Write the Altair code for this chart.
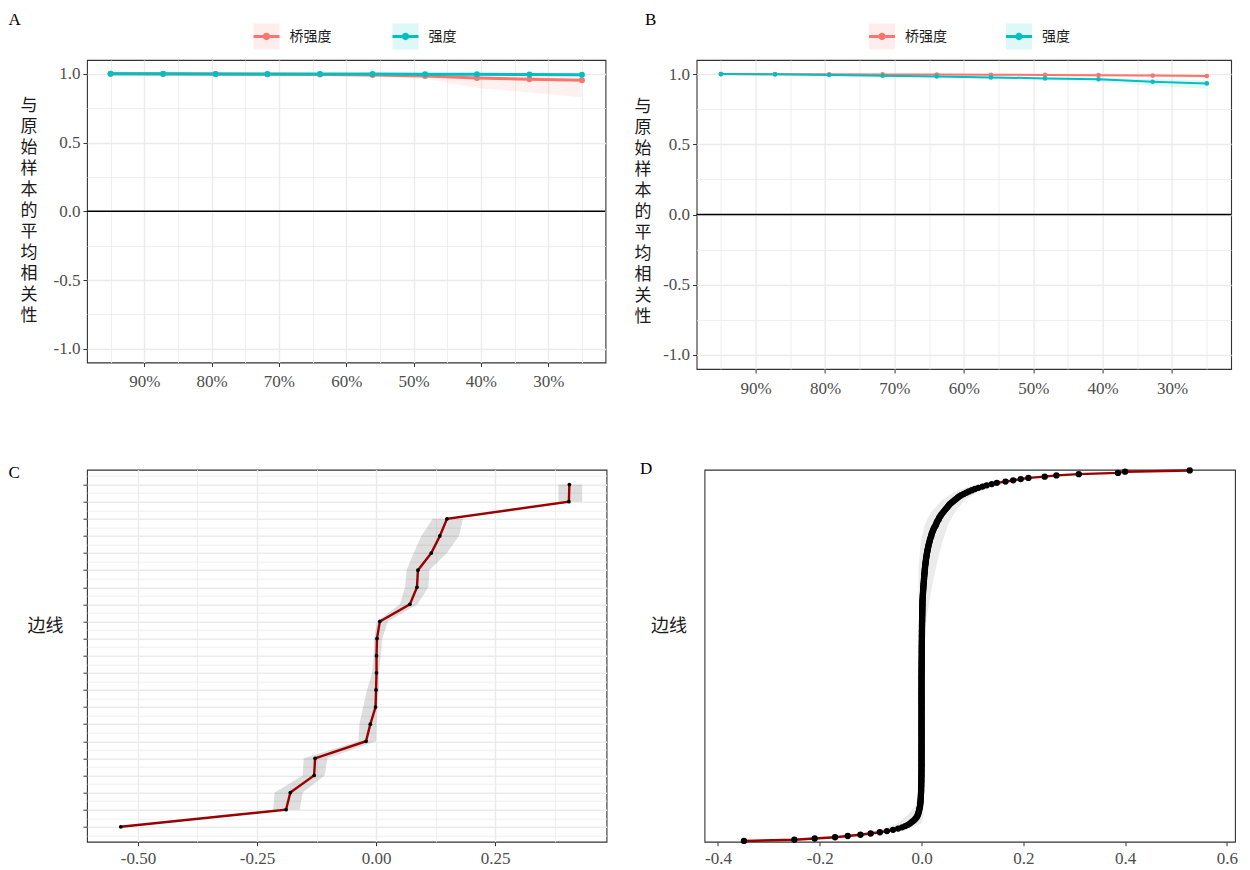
import altair as alt
import pandas as pd

FONT = "Liberation Serif, Noto Sans CJK SC, serif"
CJK = "Liberation Serif, Noto Sans CJK SC, sans-serif"
RED = "#F8766D"
TEAL = "#00BFC4"
SERIES_COLORS = [RED, TEAL]
GRID = "#EBEBEB"

# ---------------- data: panels A & B ----------------
series_names = ["桥强度", "强度"]
sample_pct = [0.95, 0.872, 0.794, 0.717, 0.639, 0.561, 0.483, 0.406, 0.328, 0.25]
x_grid_values = [0.95, 0.9, 0.85, 0.8, 0.75, 0.7, 0.65, 0.6, 0.55, 0.5, 0.45, 0.4, 0.35, 0.3, 0.25]
y_grid_values = [-1.0, -0.75, -0.5, -0.25, 0.0, 0.25, 0.5, 0.75, 1.0]
zero_line = [0.0]

a_bridge = [1.000, 0.999, 0.998, 0.997, 0.995, 0.991, 0.984, 0.969, 0.960, 0.953]
a_bridge_lo = [1.000, 0.998, 0.996, 0.993, 0.989, 0.984, 0.966, 0.896, 0.864, 0.829]
a_bridge_hi = [1.000, 1.000, 1.000, 1.000, 1.000, 0.999, 0.997, 0.995, 0.993, 0.990]
a_strength = [1.000, 1.000, 0.999, 0.999, 0.998, 0.998, 0.997, 0.996, 0.995, 0.993]
a_strength_lo = [1.000, 0.999, 0.998, 0.997, 0.996, 0.995, 0.993, 0.990, 0.988, 0.985]
a_strength_hi = [1.000, 1.000, 1.000, 1.000, 1.000, 1.000, 1.000, 1.000, 0.999, 0.998]

b_bridge = [1.000, 0.999, 0.998, 0.997, 0.996, 0.995, 0.994, 0.992, 0.989, 0.986]
b_bridge_lo = [1.000, 0.998, 0.996, 0.994, 0.992, 0.990, 0.987, 0.983, 0.978, 0.972]
b_bridge_hi = [1.000, 1.000, 1.000, 1.000, 0.999, 0.999, 0.998, 0.997, 0.996, 0.995]
b_strength = [1.000, 0.998, 0.993, 0.988, 0.983, 0.976, 0.969, 0.963, 0.945, 0.933]
b_strength_lo = [1.000, 0.996, 0.989, 0.982, 0.975, 0.966, 0.957, 0.945, 0.915, 0.895]
b_strength_hi = [1.000, 0.999, 0.996, 0.993, 0.990, 0.985, 0.979, 0.975, 0.965, 0.955]

# ---------------- data: panel C (21 edges, top to bottom) ----------------
c_sample = [0.406, 0.405, 0.149, 0.134, 0.116, 0.088, 0.086, 0.071, 0.008, 0.002, 0.001,
            0.001, 0.000, -0.001, -0.012, -0.021, -0.128, -0.130, -0.180, -0.189, -0.536]
c_lo = [0.383, 0.383, 0.119, 0.095, 0.079, 0.064, 0.061, 0.050, 0.002, -0.004, -0.005,
        -0.008, -0.019, -0.027, -0.035, -0.037, -0.152, -0.154, -0.213, -0.216, -0.536]
c_hi = [0.433, 0.433, 0.183, 0.174, 0.149, 0.112, 0.110, 0.087, 0.025, 0.013, 0.010,
        0.006, 0.006, 0.002, 0.001, 0.000, -0.102, -0.108, -0.154, -0.160, -0.536]
c_ci_group = [1, 1, 2, 2, 2, 2, 2, 2, 2, 2, 2, 2, 2, 2, 2, 2, 2, 2, 2, 2, 3]
c_x_grid = [-0.5, -0.375, -0.25, -0.125, 0.0, 0.125, 0.25, 0.375]
c_y_grid = [0.5, 1, 1.5, 2, 2.5, 3, 3.5, 4, 4.5, 5, 5.5, 6, 6.5, 7, 7.5, 8, 8.5, 9, 9.5, 10, 10.5,
            11, 11.5, 12, 12.5, 13, 13.5, 14, 14.5, 15, 15.5, 16, 16.5, 17, 17.5, 18, 18.5, 19,
            19.5, 20, 20.5, 21, 21.5]

# ---------------- data: panel D (edges sorted, top to bottom) ----------------
d_vals = [
    0.527, 0.400, 0.386, 0.309, 0.265, 0.242, 0.210, 0.195, 0.180, 0.165,
    0.148, 0.138, 0.128, 0.120, 0.112, 0.105, 0.099, 0.093, 0.088, 0.083,
    0.078, 0.074, 0.071, 0.068, 0.065, 0.062, 0.059, 0.056, 0.054, 0.052,
    0.050, 0.048, 0.046, 0.044, 0.042, 0.040, 0.038, 0.037, 0.035, 0.034,
    0.033, 0.031, 0.030, 0.029, 0.028, 0.027, 0.025, 0.024, 0.023, 0.022,
    0.021, 0.020, 0.0195, 0.019, 0.018, 0.0172, 0.0165, 0.016, 0.0153, 0.0147,
    0.014, 0.0135, 0.013, 0.0125,
    0.012, 0.0115, 0.011, 0.0106, 0.0102, 0.0098, 0.0094, 0.009, 0.0087, 0.0084,
    0.0081, 0.0078, 0.0075, 0.0072, 0.0069, 0.0066, 0.0064, 0.0062, 0.006,
    0.0058, 0.0056, 0.0054, 0.0052, 0.005, 0.0048, 0.0046, 0.0044, 0.0042, 0.004,
    0.0038, 0.0036, 0.0035, 0.0033, 0.0031, 0.003, 0.0028, 0.0027, 0.0025, 0.0024,
    0.0022, 0.002,
    0.0019, 0.0019, 0.0018, 0.0018, 0.0017, 0.0017, 0.0016, 0.0016, 0.0015, 0.0015,
    0.0014, 0.0014, 0.0013, 0.0013, 0.0012, 0.0012, 0.0011, 0.0011, 0.001, 0.001,
    0.0009, 0.0009, 0.0009, 0.0009, 0.0008, 0.0008, 0.0008, 0.0008, 0.0007, 0.0007,
    0.0007, 0.0007, 0.0006, 0.0006, 0.0006, 0.0006, 0.0005, 0.0005, 0.0005, 0.0005,
    0.0004, 0.0004, 0.0004, 0.0004, 0.0004, 0.0003, 0.0003, 0.0003, 0.0003, 0.0003,
    0.0002, 0.0002, 0.0002, 0.0002, 0.0002, 0.0001, 0.0001, 0.0001, 0.0001, 0.0001,
    0.0, 0.0, 0.0, 0.0, 0.0, 0.0, 0.0, 0.0, 0.0, 0.0, 0.0, 0.0, 0.0, 0.0, 0.0,
    0.0, 0.0, 0.0, 0.0, 0.0, 0.0, 0.0, 0.0, 0.0, 0.0, 0.0, 0.0, 0.0, 0.0, 0.0,
    0.0, 0.0, 0.0, 0.0, 0.0, 0.0, 0.0, 0.0, 0.0, 0.0, 0.0, 0.0, 0.0, 0.0, 0.0,
    0.0, 0.0, 0.0, 0.0, 0.0, 0.0, 0.0, 0.0, 0.0, 0.0, 0.0, 0.0, 0.0, 0.0, 0.0,
    0.0, 0.0, 0.0, 0.0, 0.0, 0.0, 0.0, 0.0, 0.0, 0.0, 0.0, 0.0, 0.0, 0.0, 0.0,
    -0.0001, -0.0001, -0.0001, -0.0001, -0.0002, -0.0002, -0.0002, -0.0002,
    -0.0004, -0.0004, -0.0004, -0.0004, -0.0006, -0.0006, -0.0006, -0.0006,
    -0.0008, -0.0008, -0.0008, -0.0008,
    -0.001, -0.0011, -0.0012, -0.0013, -0.0014, -0.0016, -0.0018, -0.002, -0.0022,
    -0.0025, -0.0028,
    -0.003, -0.0035, -0.004, -0.0046, -0.0052, -0.0058, -0.0065, -0.0075, -0.0085,
    -0.010, -0.012, -0.014, -0.017, -0.020, -0.023, -0.027, -0.032, -0.038, -0.046,
    -0.056, -0.068, -0.082, -0.100, -0.120, -0.145, -0.170, -0.210, -0.250, -0.349,
]
d_ci_rank = [1, 4, 8, 12, 18, 25, 35, 45, 60, 80, 100, 120, 150, 240, 262, 272, 280, 286, 291, 296, 300]
d_ci_lo = [0.520, 0.290, 0.170, 0.110, 0.066, 0.040, 0.018, 0.006, -0.002, -0.006, -0.006,
           -0.005, -0.004, -0.003, -0.006, -0.012, -0.030, -0.048, -0.080, -0.160, -0.349]
d_ci_hi = [0.530, 0.330, 0.215, 0.160, 0.112, 0.085, 0.065, 0.052, 0.040, 0.028, 0.018,
           0.010, 0.005, 0.003, 0.003, 0.004, 0.004, 0.000, -0.030, -0.130, -0.349]
d_x_ticks = [-0.4, -0.2, 0.0, 0.2, 0.4, 0.6]

# ---------------- helpers ----------------
LEG_PATH = ("M-1,-0.12H1V0.12H-1Z "
            "M-0.28,0A0.28,0.28,0,1,1,0.28,0A0.28,0.28,0,1,1,-0.28,0Z")
# legend-key background names (zero-width space keeps them distinct from the series legend)
band_names = [s + "\u200b" for s in series_names]


def cond(test, a, b):
    return alt.condition(test, alt.value(a), alt.value(b))


def panel_title(text, dx, dy):
    return alt.TitleParams(text=text, anchor="start", frame="group", dx=dx, dy=dy,
                           fontSize=17, font=FONT, fontWeight="normal", color="black", offset=0)


def stability_panel(label, vals, w, h, lw, psize, leg_x, leg_y, colpad, tx, ty, title_dx, title_dy):
    rows = []
    for name, band, (v, lo, hi) in zip(series_names, band_names, vals):
        for p, a, b, c in zip(sample_pct, v, lo, hi):
            rows.append({"pct": p, "series": name, "band": band, "value": a, "lo": b, "hi": c})
    df = pd.DataFrame(rows)
    major_x = "abs(round(datum.value*10) - datum.value*10) < 0.01"
    major_y = "abs(round(datum.value*2) - datum.value*2) < 0.01"
    x_axis = alt.Axis(values=x_grid_values, title=None, domain=False,
                      labelExpr=f"{major_x} ? format(datum.value, '.0%') : ''",
                      tickOpacity=cond(major_x, 1, 0), tickColor="#333333", tickSize=4,
                      gridColor=GRID, gridWidth=cond(major_x, 1.4, 0.8),
                      labelFont=FONT, labelFontSize=17, labelColor="#4D4D4D",
                      labelPadding=7, labelOverlap=False, labelFlush=False)
    y_axis = alt.Axis(values=y_grid_values, domain=False,
                      labelExpr=f"{major_y} ? replace(format(datum.value, '.1f'), '\u2212', '-') : ''",
                      tickOpacity=cond(major_y, 1, 0), tickColor="#333333", tickSize=4,
                      gridColor=GRID, gridWidth=cond(major_y, 1.4, 0.8),
                      labelFont=FONT, labelFontSize=17, labelColor="#4D4D4D",
                      labelPadding=3, labelOverlap=False, labelFlush=False,
                      title=list("与原始样本的平均相关性"), titleAngle=0, titleX=tx, titleY=ty,
                      titleAlign="center", titleBaseline="middle", titleFont=CJK,
                      titleFontSize=17, titleFontWeight="normal", titleColor="#1A1A1A",
                      titleLineHeight=21)
    xs = alt.X("pct:Q", scale=alt.Scale(domain=[0.215, 0.985], reverse=True, nice=False, zero=False),
               axis=x_axis)
    ys = alt.Scale(domain=[-1.1, 1.1], nice=False, zero=False)
    base = alt.Chart(df)
    area = base.mark_area(opacity=0.1).encode(
        x=xs, y=alt.Y("lo:Q", scale=ys, axis=y_axis), y2="hi:Q",
        fill=alt.Fill("band:N", scale=alt.Scale(domain=band_names, range=SERIES_COLORS),
                      legend=alt.Legend(
                          orient="none", legendX=leg_x, legendY=leg_y, direction="horizontal", title=None,
                          symbolType="square", symbolSize=676, symbolOpacity=0.13, symbolStrokeWidth=0,
                          labelOpacity=0, labelFont=CJK, labelFontSize=14, labelOffset=10,
                          columnPadding=colpad, padding=0, zindex=0)),
    )
    rule = alt.Chart(pd.DataFrame({"v": zero_line})).mark_rule(color="black", strokeWidth=1.3).encode(
        y=alt.Y("v:Q", scale=ys, axis=y_axis))
    lines = [
        base.transform_filter(alt.datum.series == name).mark_line(strokeWidth=lw, color=col).encode(
            x=xs, y=alt.Y("value:Q", scale=ys, axis=y_axis))
        for name, col in zip(series_names, SERIES_COLORS)
    ]
    point = base.mark_point(filled=True, size=psize, opacity=1).encode(
        x=xs, y=alt.Y("value:Q", scale=ys, axis=y_axis),
        color=alt.Color("series:N", scale=alt.Scale(domain=series_names, range=SERIES_COLORS),
                        legend=alt.Legend(
                            orient="none", legendX=leg_x, legendY=leg_y, direction="horizontal", title=None,
                            symbolType=LEG_PATH, symbolSize=676, symbolOpacity=1, symbolStrokeWidth=0,
                            labelFont=CJK, labelFontSize=14, labelColor="#1A1A1A", labelOffset=10,
                            columnPadding=colpad, padding=0, zindex=1)))
    return alt.layer(area, rule, *lines, point).properties(
        width=w, height=h, title=panel_title(label, title_dx, title_dy))


A = stability_panel("A", [(a_bridge, a_bridge_lo, a_bridge_hi), (a_strength, a_strength_lo, a_strength_hi)],
                    518.5, 302.5, 3, 36, 166.5, -36.5, 61, -58.5, 45.5, -78.5, 5.5)
B = stability_panel("B", [(b_bridge, b_bridge_lo, b_bridge_hi), (b_strength, b_strength_lo, b_strength_hi)],
                    534.5, 309, 2, 22, 172.4, -36.5, 59, -54, 46, -51.6, 5.5)

# ---------------- panel C ----------------
c_df = pd.DataFrame({"rank": list(range(1, len(c_sample) + 1)), "value": c_sample,
                     "lo": c_lo, "hi": c_hi, "grp": c_ci_group})
major_c = "abs(round(datum.value*4) - datum.value*4) < 0.01"
c_x_axis = alt.Axis(values=c_x_grid, title=None, domain=False,
                    labelExpr=f"{major_c} ? replace(format(datum.value, '.2f'), '\u2212', '-') : ''",
                    tickOpacity=cond(major_c, 1, 0), tickColor="#333333", tickSize=4,
                    gridColor=GRID, gridWidth=cond(major_c, 1.4, 0.8),
                    labelFont=FONT, labelFontSize=17, labelColor="#4D4D4D",
                    labelPadding=5, labelOverlap=False, labelFlush=False)
c_y_axis = alt.Axis(values=c_y_grid, labels=False, domain=False,
                    tickOpacity=cond("datum.value % 1 == 0", 1, 0), tickColor="#333333", tickSize=4,
                    gridColor=GRID, gridWidth=cond("datum.value % 1 == 0", 1.4, 0.8),
                    title="边线", titleAngle=0, titleX=-42, titleY=157, titleAlign="center",
                    titleBaseline="middle", titleFont=CJK, titleFontSize=18,
                    titleFontWeight="normal", titleColor="#1A1A1A")
c_xs = alt.Scale(domain=[-0.607, 0.484], nice=False, zero=False)
c_ys = alt.Scale(domain=[0.13, 21.87], reverse=True, nice=False, zero=False)
c_base = alt.Chart(c_df)
c_area = c_base.mark_area(orient="horizontal", color="black", opacity=0.13).encode(
    y=alt.Y("rank:Q", scale=c_ys, axis=c_y_axis),
    x=alt.X("lo:Q", scale=c_xs, axis=c_x_axis), x2="hi:Q", detail="grp:N")
c_line = c_base.mark_line(color="#990000", strokeWidth=2.4, orient="horizontal").encode(
    y=alt.Y("rank:Q", scale=c_ys, axis=c_y_axis),
    x=alt.X("value:Q", scale=c_xs, axis=c_x_axis), order="rank:Q")
c_pts = c_base.mark_point(filled=True, color="black", size=14, opacity=1).encode(
    y=alt.Y("rank:Q", scale=c_ys, axis=c_y_axis),
    x=alt.X("value:Q", scale=c_xs, axis=c_x_axis))
C = alt.layer(c_area, c_line, c_pts).properties(width=519.5, height=372,
                                                 title=panel_title("C", -78.5, 12))

# ---------------- panel D ----------------
n_d = len(d_vals)
d_df = pd.DataFrame({"rank": list(range(1, n_d + 1)), "value": d_vals})
d_ci_df = pd.DataFrame({"rank": d_ci_rank, "lo": d_ci_lo, "hi": d_ci_hi})
d_x_axis = alt.Axis(values=d_x_ticks, title=None, domain=False, grid=False,
                    labelExpr="replace(format(datum.value, '.1f'), '\u2212', '-')",
                    tickColor="#333333", tickSize=4,
                    labelFont=FONT, labelFontSize=17, labelColor="#4D4D4D",
                    labelPadding=5, labelOverlap=False, labelFlush=False)
d_y_axis = alt.Axis(labels=False, ticks=False, grid=False, domain=False,
                    title="边线", titleAngle=0, titleX=-36, titleY=157, titleAlign="center",
                    titleBaseline="middle", titleFont=CJK, titleFontSize=18,
                    titleFontWeight="normal", titleColor="#1A1A1A")
d_xs = alt.Scale(domain=[-0.4265, 0.616], nice=False, zero=False)
d_ys = alt.Scale(domain=[0.4, n_d + 0.6], reverse=True, nice=False, zero=False)
d_area = alt.Chart(d_ci_df).mark_area(orient="horizontal", color="black", opacity=0.08).encode(
    y=alt.Y("rank:Q", scale=d_ys, axis=d_y_axis),
    x=alt.X("lo:Q", scale=d_xs, axis=d_x_axis), x2="hi:Q")
d_line = alt.Chart(d_df).mark_line(color="#990000", strokeWidth=2.4, orient="horizontal").encode(
    y=alt.Y("rank:Q", scale=d_ys, axis=d_y_axis),
    x=alt.X("value:Q", scale=d_xs, axis=d_x_axis), order="rank:Q")
d_pts = alt.Chart(d_df).mark_point(filled=True, color="black", size=40, opacity=1).encode(
    y=alt.Y("rank:Q", scale=d_ys, axis=d_y_axis),
    x=alt.X("value:Q", scale=d_xs, axis=d_x_axis))
D = alt.layer(d_area, d_line, d_pts).properties(width=530.5, height=372,
                                                 title=panel_title("D", -64.5, 12))

# ---------------- layout ----------------
RES = dict(color="independent", fill="independent")
top = alt.hconcat(A, B, spacing=90.6, bounds="flush").resolve_scale(**RES).resolve_legend(**RES)
bottom = alt.hconcat(C, D, spacing=97.5, bounds="flush")
chart = alt.vconcat(top, bottom, spacing=61.7).resolve_scale(**RES).resolve_legend(**RES)
chart = chart.properties(
    padding={"left": 7, "top": 10, "right": 0, "bottom": 0}, background="white"
).configure_view(stroke="#333333", strokeWidth=1.1)

chart.save("out.html", embed_options={"renderer": "svg", "actions": False})
